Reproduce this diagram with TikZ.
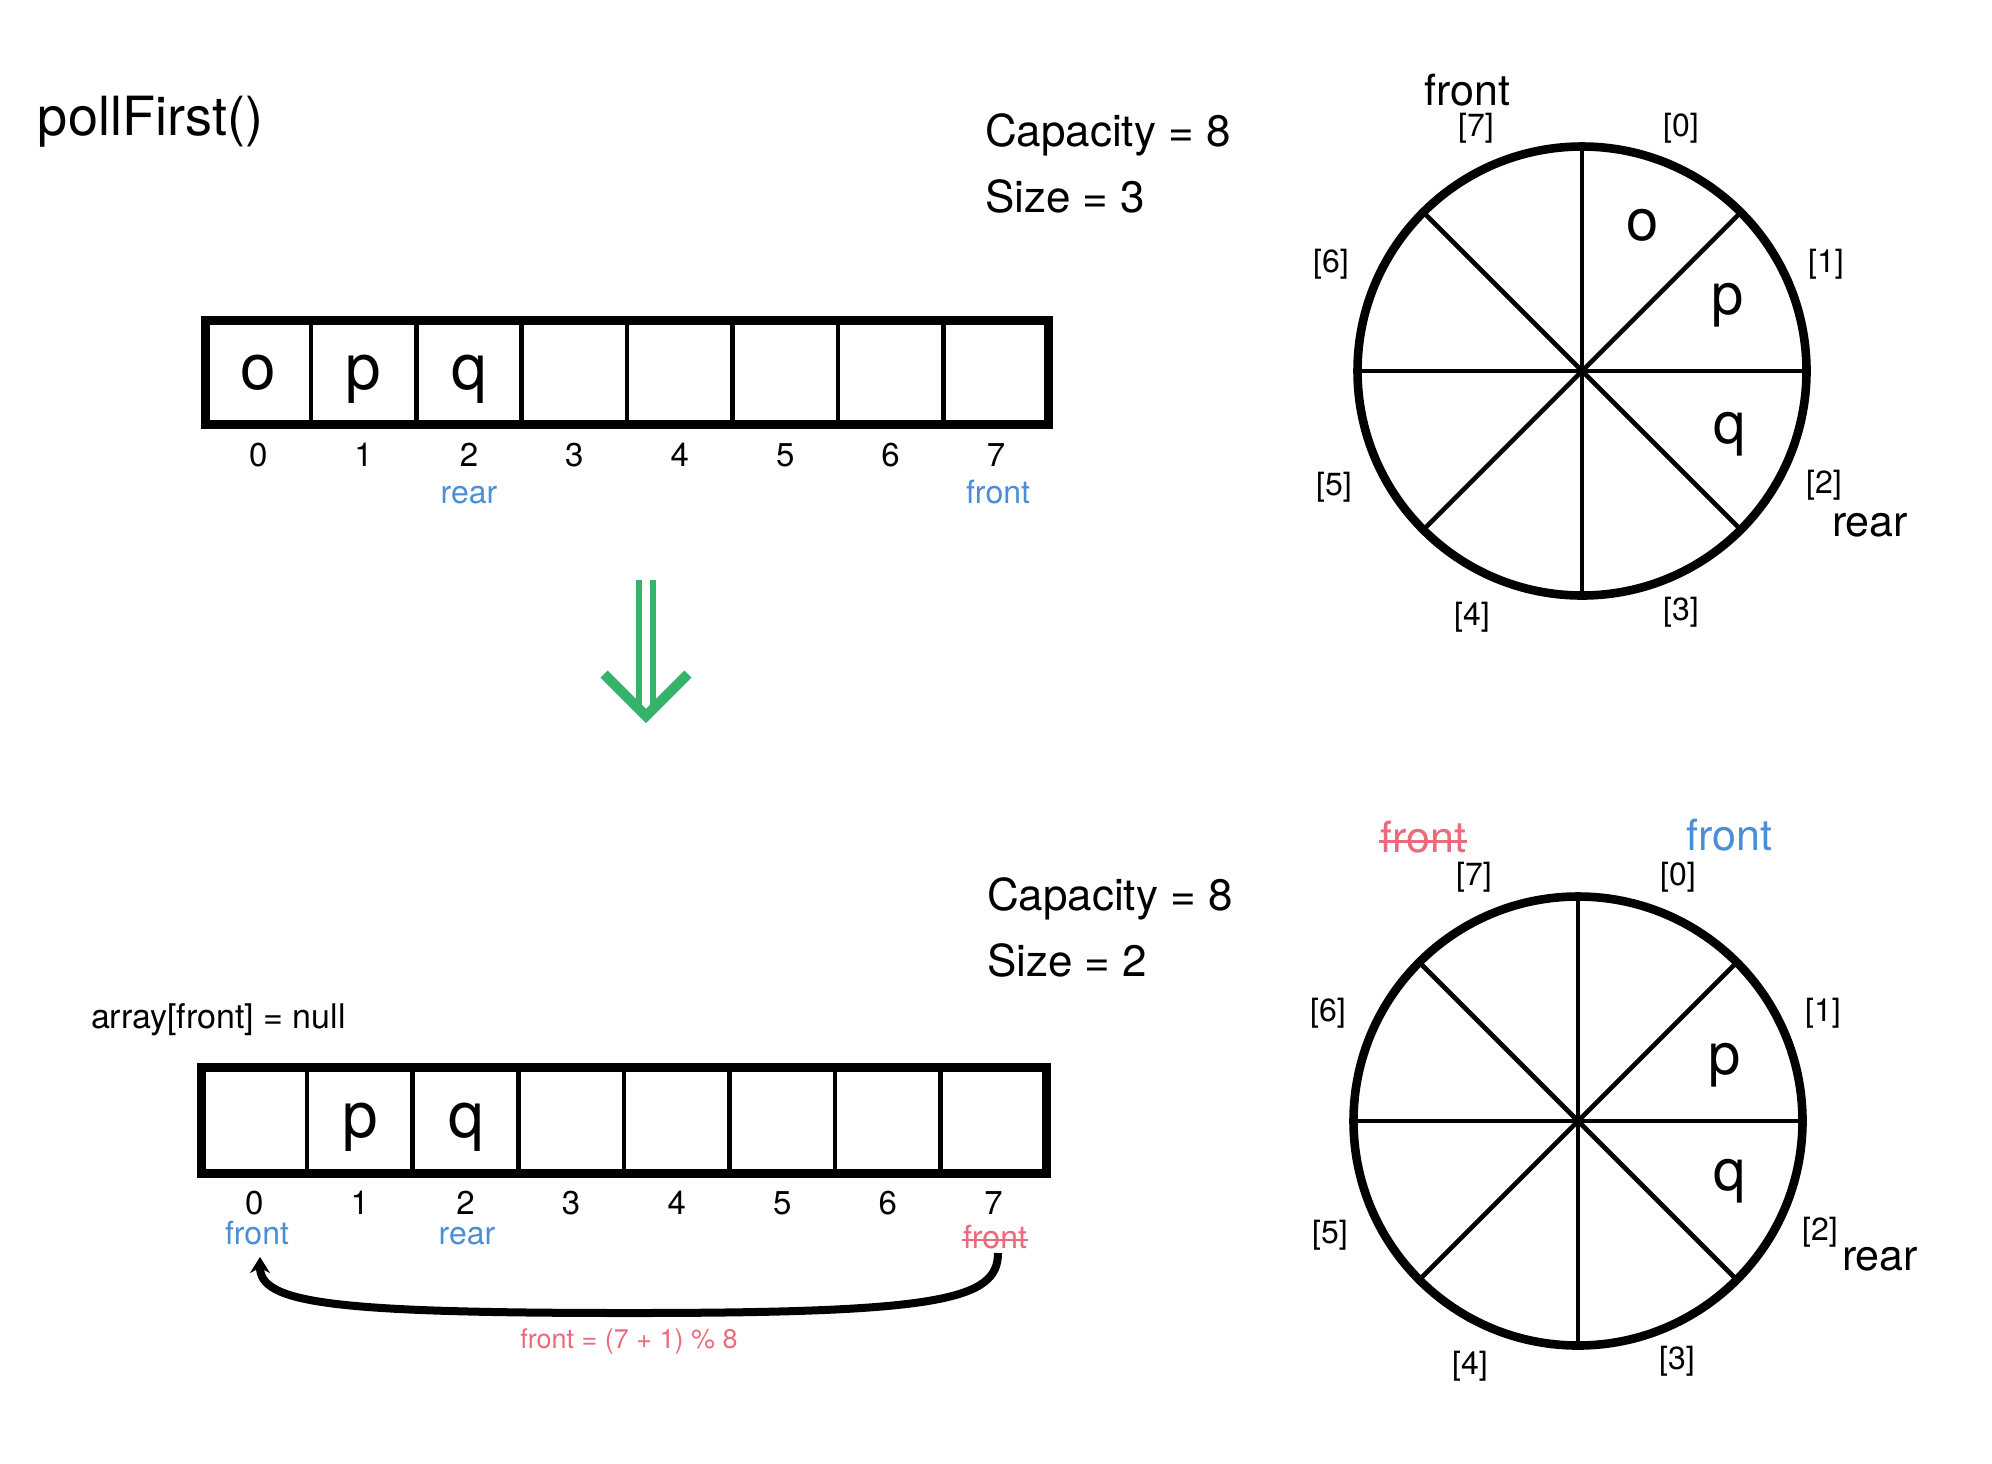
\documentclass[tikz,border=0pt]{standalone}
\usepackage{fontspec}
\setmainfont{TeX Gyre Heros}
\usetikzlibrary{arrows.meta,calc}
\definecolor{qblue}{HTML}{4A8FD6}
\definecolor{qred}{HTML}{EB6A7C}
\definecolor{qgreen}{HTML}{35B36B}
\begin{document}
\begin{tikzpicture}[x=0.5pt,y=-0.5pt,
  every node/.style={inner sep=0pt, outer sep=0pt},
  title/.style={font=\fontsize{27}{30}\selectfont, anchor=base west},
  info/.style={font=\fontsize{22}{26}\selectfont, anchor=base west},
  note/.style={font=\fontsize{17}{20}\selectfont, anchor=base west},
  cellchar/.style={font=\fontsize{32}{36}\selectfont, anchor=base},
  idx/.style={font=\fontsize{16.5}{20}\selectfont, anchor=base},
  ptr/.style={font=\fontsize{16}{19}\selectfont, anchor=base, text=qblue},
  oldptr/.style={font=\fontsize{16}{19}\selectfont, anchor=base, text=qred},
  formula/.style={font=\fontsize{13.5}{16}\selectfont, anchor=base, text=qred},
  frame/.style={line width=4.5pt},
  divider/.style={line width=2.3pt},
  ring/.style={line width=4.3pt},
  spoke/.style={line width=2.3pt},
  slot/.style={font=\fontsize{16}{19}\selectfont},
  ringchar/.style={font=\fontsize{29}{33}\selectfont},
  ringptr/.style={font=\fontsize{21.5}{25}\selectfont},
  strike/.style={line width=1.1pt, qred},
]
\useasboundingbox (0,0) rectangle (1992,1463);

% ---------------- top half ----------------
\node[title] (title) at (38,135) {pollFirst()};
\node[info] (cap1) at (985,146) {Capacity = 8};
\node[info] (size1) at (985,212) {Size = 3};

% top array
\foreach \i in {1,...,7}{
  \draw[divider] ({205.5+105.4*\i},320.5) -- ({205.5+105.4*\i},424);
}
\draw[frame] (205.5,320.5) rectangle (1048.5,424);
\node[cellchar] (ta0) at (258,389) {o};
\node[cellchar] (ta1) at (363,389) {p};
\node[cellchar] (ta2) at (469,389) {q};
\foreach \i in {0,...,7}{
  \node[idx] (ti\i) at ({258.2+105.4*\i},466) {\i};
}
\node[ptr] (trear) at (469,503) {rear};
\node[ptr] (tfront) at (998,503) {front};

% top circle
\coordinate (c1) at (1582,371);
\draw[spoke] ($(c1)+(-222,0)$) -- ($(c1)+(222,0)$);
\draw[spoke] ($(c1)+(0,-222)$) -- ($(c1)+(0,222)$);
\draw[spoke] ($(c1)+(45:222)$) -- ($(c1)+(225:222)$);
\draw[spoke] ($(c1)+(135:222)$) -- ($(c1)+(315:222)$);
\draw[ring] (c1) circle[radius=112.25pt];
\node[ringchar] (co0) at ($(c1)+(61,-146)$) {o};
\node[ringchar] (co1) at ($(c1)+(146,-66)$) {p};
\node[ringchar] (co2) at ($(c1)+(148,63)$) {q};
\node[slot] (s0) at ($(c1)+(99,-243)$) {[0]};
\node[slot] (s1) at ($(c1)+(244,-107)$) {[1]};
\node[slot] (s2) at ($(c1)+(242,114)$) {[2]};
\node[slot] (s3) at ($(c1)+(99,241)$) {[3]};
\node[slot] (s4) at ($(c1)+(-110,246)$) {[4]};
\node[slot] (s5) at ($(c1)+(-248,116)$) {[5]};
\node[slot] (s6) at ($(c1)+(-251,-107)$) {[6]};
\node[slot] (s7) at ($(c1)+(-106,-243)$) {[7]};
\node[ringptr] (cfront) at ($(c1)+(-115,-281)$) {front};
\node[ringptr] (crear) at ($(c1)+(288,154)$) {rear};

% green arrow
\coordinate (ga) at (646,580);
\coordinate (gb) at (646,716);
\draw[qgreen, line width=3pt] ($(ga)+(-7,0)$) -- ($(gb)+(-7,-4)$);
\draw[qgreen, line width=3pt] ($(ga)+(7,0)$) -- ($(gb)+(7,-4)$);
\draw[qgreen, line width=5pt, line join=miter] ($(gb)+(-42,-42)$) -- (gb) -- ($(gb)+(42,-42)$);

% ---------------- bottom half ----------------
\node[info] (cap2) at (987,910) {Capacity = 8};
\node[info] (size2) at (987,976) {Size = 2};
\node[note] (nullnote) at (91,1028) {array[front] = null};

% bottom array
\foreach \i in {1,...,7}{
  \draw[divider] ({201.5+105.6*\i},1067.5) -- ({201.5+105.6*\i},1173.5);
}
\draw[frame] (201.5,1067.5) rectangle (1046.5,1173.5);
\node[cellchar] (ba1) at (360,1137) {p};
\node[cellchar] (ba2) at (466,1137) {q};
\foreach \i in {0,...,7}{
  \node[idx] (bi\i) at ({254.3+105.6*\i},1214) {\i};
}
\node[ptr] (bfront) at (257,1244) {front};
\node[ptr] (brear) at (467,1244) {rear};
\node[oldptr] (boldfront) at (995,1248) {front};
\draw[strike] ($(boldfront.base west)+(-1,-8)$) -- ($(boldfront.base east)+(1,-8)$);

% wrap-around arrow
\coordinate (wstart) at (998,1253);
\coordinate (wend) at (260,1257);
\draw[line width=4pt, -{Stealth[length=8pt,width=10pt]}]
  (wstart) .. controls (998,1300) and (940,1313) .. (630,1313)
           .. controls (330,1313) and (260,1303) .. (wend);
\node[formula] (formula) at (629,1348) {front = (7 + 1) \% 8};

% bottom circle
\coordinate (c2) at (1578,1121);
\draw[spoke] ($(c2)+(-222,0)$) -- ($(c2)+(222,0)$);
\draw[spoke] ($(c2)+(0,-222)$) -- ($(c2)+(0,222)$);
\draw[spoke] ($(c2)+(45:222)$) -- ($(c2)+(225:222)$);
\draw[spoke] ($(c2)+(135:222)$) -- ($(c2)+(315:222)$);
\draw[ring] (c2) circle[radius=112.25pt];
\node[ringchar] (do1) at ($(c2)+(147,-56)$) {p};
\node[ringchar] (do2) at ($(c2)+(152,60)$) {q};
\node[slot] (t0) at ($(c2)+(100,-244)$) {[0]};
\node[slot] (t1) at ($(c2)+(245,-108)$) {[1]};
\node[slot] (t2) at ($(c2)+(242,111)$) {[2]};
\node[slot] (t3) at ($(c2)+(99,240)$) {[3]};
\node[slot] (t4) at ($(c2)+(-108,245)$) {[4]};
\node[slot] (t5) at ($(c2)+(-248,114)$) {[5]};
\node[slot] (t6) at ($(c2)+(-250,-108)$) {[6]};
\node[slot] (t7) at ($(c2)+(-104,-244)$) {[7]};
\node[ringptr, text=qred] (doldfront) at ($(c2)+(-155,-284)$) {front};
\draw[strike, line width=1.4pt] ($(doldfront.base west)+(-1,-11)$) -- ($(doldfront.base east)+(1,-11)$);
\node[ringptr, text=qblue] (dfront) at ($(c2)+(151,-286)$) {front};
\node[ringptr] (drear) at ($(c2)+(302,138)$) {rear};
\end{tikzpicture}
\end{document}
